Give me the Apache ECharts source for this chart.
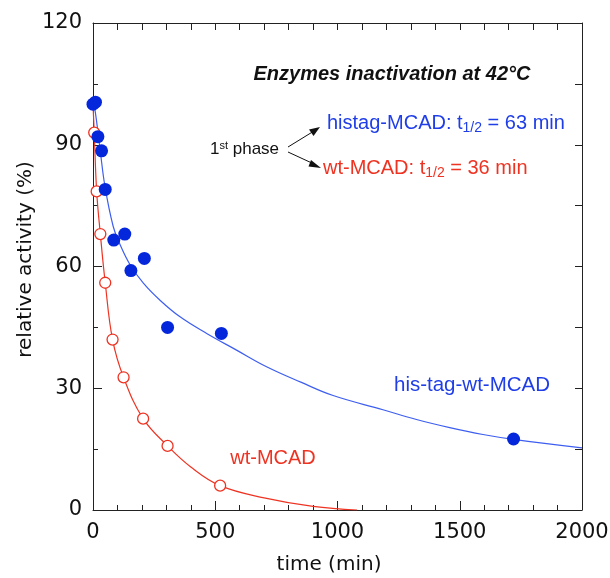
<!DOCTYPE html>
<html>
<head>
<meta charset="utf-8">
<script src="https://cdn.jsdelivr.net/npm/echarts@6/dist/echarts.min.js"></script>
<style>html,body{margin:0;padding:0;background:#fff;}#c{width:610px;height:578px;}</style>
</head>
<body>
<div id="c"></div>
<script>
// measured points: his-tag-wt-MCAD (filled blue)
const hisTime = [0, 10, 20, 35, 50, 85, 130, 155, 210, 305, 525, 1720];
const hisActivity = [100, 100.5, 92, 88.5, 79, 66.5, 68, 59, 62, 45, 43.5, 17.5];
// measured points: wt-MCAD (open red)
const wtTime = [5, 15, 30, 50, 80, 125, 205, 305, 520];
const wtActivity = [93, 78.5, 68, 56, 42, 32.7, 22.5, 15.8, 6];
// fitted curves
const hisFitTime = [0, 8, 29, 49, 83, 110, 151, 206, 274, 356, 465, 587, 710, 850, 982, 1186, 1323, 1459, 1595, 1720, 2000];
const hisFitActivity = [100, 98.6, 88.8, 79.7, 69.8, 65.5, 60.5, 55.9, 51.7, 47.6, 43.5, 39.4, 35.3, 31.5, 28.2, 24.7, 22.3, 20.3, 18.6, 17.4, 15.3];
const wtFitTime = [0, 5, 15, 30, 50, 80, 125, 205, 305, 400, 520, 700, 900, 1080];
const wtFitActivity = [100, 93, 78.5, 68, 56, 42, 32.7, 22.5, 15.8, 10.6, 6, 3, 0.9, 0];
// axis ticks
const xTicks = {min: 0, max: 2000, interval: 500};
const yTicks = {min: 0, max: 120, interval: 30};

const BLUE = '#0527dc', BLUE_LINE = '#3d5ef0', RED = '#ee3322', AX = '#222';
const TXT_BLUE = '#1f3ee8';
const FONT = 'Liberation Sans, Arial, sans-serif';
const AFONT = 'DejaVu Sans, sans-serif';
const zip = (a, b) => a.map((v, i) => [v, b[i]]);

const chart = echarts.init(document.getElementById('c'), null, {renderer: 'canvas'});
chart.setOption({
  animation: false,
  backgroundColor: '#fff',
  grid: {left: 93, right: 28, top: 23, bottom: 68, containLabel: false, outerBoundsMode: 'none'},
  xAxis: [{
    type: 'value', min: xTicks.min, max: xTicks.max, interval: xTicks.interval,
    name: 'time (min)', nameLocation: 'middle', nameGap: 45, nameMoveOverlap: false,
    nameTextStyle: {fontFamily: AFONT, fontSize: 20, color: '#111', padding: [0, 17, 0, 0]},
    axisLine: {onZero: false, lineStyle: {color: AX, width: 1}},
    axisTick: {inside: true, length: 9, lineStyle: {color: AX}},
    minorTick: {show: true, splitNumber: 5, length: 5, lineStyle: {color: AX}},
    axisLabel: {fontFamily: AFONT, fontSize: 21, color: '#111', margin: 12, formatter: v => String(v)},
    splitLine: {show: false}
  }, {
    type: 'value', position: 'top', min: xTicks.min, max: xTicks.max, interval: 100,
    axisLine: {onZero: false, lineStyle: {color: AX, width: 1}},
    axisTick: {inside: true, length: 7, lineStyle: {color: AX}},
    axisLabel: {show: false}, splitLine: {show: false}
  }],
  yAxis: [{
    type: 'value', min: yTicks.min, max: yTicks.max, interval: yTicks.interval,
    name: 'relative activity (%)', nameLocation: 'middle', nameGap: 57, nameMoveOverlap: false,
    nameTextStyle: {fontFamily: AFONT, fontSize: 20, color: '#111', padding: [0, 0, 0, 14]},
    axisLine: {show: true, onZero: false, lineStyle: {color: AX, width: 1}},
    axisTick: {show: true, inside: true, length: 9, lineStyle: {color: AX}},
    minorTick: {show: true, splitNumber: 2, length: 5, lineStyle: {color: AX}},
    axisLabel: {fontFamily: AFONT, fontSize: 21, color: '#111', margin: 11},
    splitLine: {show: false}
  }, {
    type: 'value', position: 'right', min: yTicks.min, max: yTicks.max, interval: 15,
    axisLine: {show: true, onZero: false, lineStyle: {color: AX, width: 1}},
    axisTick: {show: true, inside: true, length: 7, lineStyle: {color: AX}},
    axisLabel: {show: false}, splitLine: {show: false}
  }],
  series: [
    {type: 'line', data: zip(wtFitTime, wtFitActivity), smooth: 0.4, showSymbol: false,
     lineStyle: {color: RED, width: 1.2}, z: 2},
    {type: 'line', data: zip(hisFitTime, hisFitActivity), smooth: 0.4, showSymbol: false,
     lineStyle: {color: BLUE_LINE, width: 1.2}, z: 2},
    {type: 'scatter', data: zip(wtTime, wtActivity), symbol: 'circle', symbolSize: 11,
     itemStyle: {color: '#fff', borderColor: RED, borderWidth: 1.3, opacity: 1}, z: 4},
    {type: 'scatter', data: zip(hisTime, hisActivity), symbol: 'circle', symbolSize: 13,
     itemStyle: {color: BLUE, opacity: 1}, z: 5}
  ],
  graphic: [
    {type: 'text', x: 392, y: 74, style: {text: 'Enzymes inactivation at 42°C', align: 'center', verticalAlign: 'middle',
      font: 'italic bold 20px ' + FONT, fill: '#111'}},
    {type: 'text', left: 327, top: 113, style: {
      text: '{a|histag-MCAD: t}{s|1/2}{a| = 63 min}',
      rich: {a: {fontFamily: FONT, fontSize: 20, fill: TXT_BLUE},
             s: {fontFamily: FONT, fontSize: 14, fill: TXT_BLUE, padding: [11, 0, 0, 0]}}}},
    {type: 'text', left: 323, top: 158, style: {
      text: '{a|wt-MCAD: t}{s|1/2}{a| = 36 min}',
      rich: {a: {fontFamily: FONT, fontSize: 20, fill: RED},
             s: {fontFamily: FONT, fontSize: 14, fill: RED, padding: [11, 0, 0, 0]}}}},
    {type: 'text', left: 210, top: 140, style: {
      text: '{a|1}{s|st}{a| phase}',
      rich: {a: {fontFamily: FONT, fontSize: 17, fill: '#111'},
             s: {fontFamily: FONT, fontSize: 11, fill: '#111', padding: [0, 0, 7, 0]}}}},
    {type: 'line', shape: {x1: 288, y1: 147, x2: 314, y2: 131}, style: {stroke: '#111', lineWidth: 1}},
    {type: 'polygon', shape: {points: [[320, 127], [309, 129.5], [313.5, 136]]}, style: {fill: '#111'}},
    {type: 'line', shape: {x1: 288, y1: 152, x2: 314, y2: 164}, style: {stroke: '#111', lineWidth: 1}},
    {type: 'polygon', shape: {points: [[321, 168], [311, 160], [308.5, 166.5]]}, style: {fill: '#111'}},
    {type: 'text', x: 472, y: 385, style: {text: 'his-tag-wt-MCAD', align: 'center', verticalAlign: 'middle',
      font: '20.5px ' + FONT, fill: TXT_BLUE}},
    {type: 'text', x: 273, y: 458, style: {text: 'wt-MCAD', align: 'center', verticalAlign: 'middle',
      font: '20px ' + FONT, fill: RED}}
  ]
});
</script>
</body>
</html>
